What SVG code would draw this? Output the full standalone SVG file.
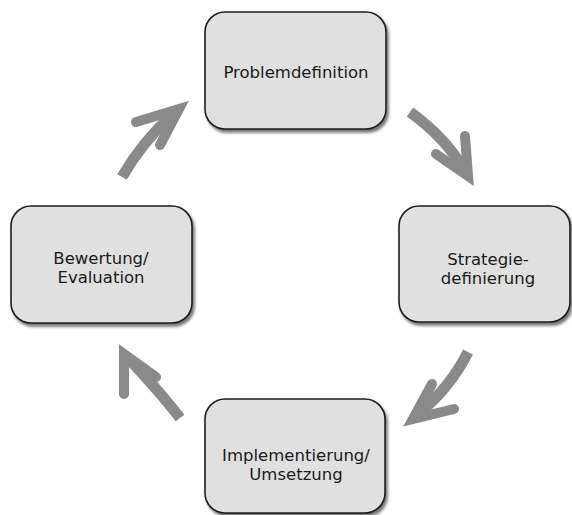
<svg xmlns="http://www.w3.org/2000/svg" width="572" height="515" viewBox="0 0 572 515">
<defs>
<filter id="sh" x="-10%" y="-10%" width="125%" height="125%">
<feGaussianBlur in="SourceAlpha" stdDeviation="1.6"/>
<feOffset dx="2" dy="3" result="b"/>
<feComponentTransfer><feFuncA type="linear" slope="0.55"/></feComponentTransfer>
<feMerge><feMergeNode/><feMergeNode in="SourceGraphic"/></feMerge>
</filter>
</defs>
<style>
.box{fill:#e0e0e0;stroke:#1e1e1e;stroke-width:1.6;filter:url(#sh)}
.t{font-family:"DejaVu Sans","Liberation Sans",sans-serif;font-size:16.5px;fill:#1a1a1a;text-anchor:middle}
.shaft{fill:none;stroke:#8a8a8a;stroke-width:11;stroke-linecap:butt}
.head{fill:none;stroke:#8a8a8a;stroke-width:10;stroke-linecap:round;stroke-linejoin:miter;stroke-miterlimit:10}
</style>
<g id="connectors">
<g id="a1"><path class="shaft" d="M410,112 Q446,138 464,170"/><path class="head" d="M465,136 L468,176 L436,154"/></g>
<g id="a2"><path class="shaft" d="M468,352 Q450,388 418,414"/><path class="head" d="M432,384 L413,419 L454,409"/></g>
<g id="a3"><path class="shaft" d="M180,418 Q160,392 128,358"/><path class="head" d="M124,394 L124,354 L156,377"/></g>
<g id="a4"><path class="shaft" d="M122,177 Q142,142 174,113"/><path class="head" d="M136,122 L179,109 L160,145"/></g>
</g>
<g id="n1"><rect class="box" x="205" y="12" width="181" height="117" rx="20"/><text class="t" x="296" y="78">Problemdefinition</text></g>
<g id="n2"><rect class="box" x="399" y="206" width="171" height="116" rx="20"/><text class="t" x="488" y="265">Strategie-</text><text class="t" x="488" y="284">definierung</text></g>
<g id="n3"><rect class="box" x="205" y="399" width="180" height="114" rx="20"/><text class="t" x="296" y="461">Implementierung/</text><text class="t" x="296" y="480">Umsetzung</text></g>
<g id="n4"><rect class="box" x="11" y="206" width="181" height="117" rx="20"/><text class="t" x="101" y="264">Bewertung/</text><text class="t" x="101" y="283">Evaluation</text></g>
</svg>
